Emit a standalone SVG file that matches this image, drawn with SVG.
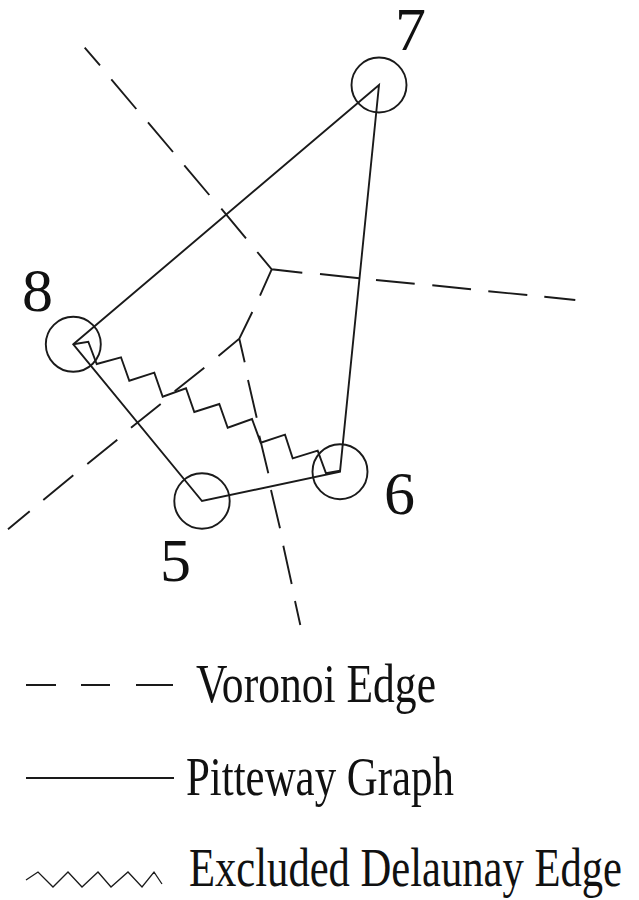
<svg xmlns="http://www.w3.org/2000/svg" width="639" height="900" viewBox="0 0 639 900">
<style>
.edge{fill:none;stroke:#1a1a1a;stroke-width:1.9;stroke-linejoin:miter;stroke-linecap:butt}
.node{fill:none;stroke:#1a1a1a;stroke-width:1.9}
.lbl{font-family:"Liberation Serif","Times New Roman",serif;font-size:62px;fill:#111;text-anchor:middle}
.leg{font-family:"Liberation Serif","Times New Roman",serif;font-size:54px;fill:#111}
</style>
<rect width="639" height="900" fill="#fff"/>
<g id="connectors">
  <g id="pitteway">
    <path class="edge" d="M73.3,344.3 L379,85 L340,471.7 L202,501 Z"/>
  </g>
  <g id="excluded-delaunay">
    <polyline class="edge" points="73.3,344.3 88.3,341.7 96.7,364 121,357.3 129.3,380.7 154.3,372.7 162.7,396.7 186,388.3 194.3,412 219.3,404 227.7,427.7 252,419 260.7,442.7 285,434.7 292.7,458.3 317.7,450.7 326,473.3 340,470.7"/>
  </g>
  <g id="voronoi">
    <path class="edge" d="M84.7,47.7 L100,65.3 M111.3,79.3 L136.3,109 M148,122.3 L173,152 M184.3,165.3 L209.3,195 M221.3,208.7 L246,238.3 M257.3,252 L271.7,269.3 L302.3,272.7 M271.7,269.3 L260,295.7"/>
    <path class="edge" d="M320,274 L359.3,278.3 M376,280 L414.7,283.7 M432.3,285.3 L471,289.3 M488.3,291.3 L527.3,295 M544.3,296.7 L575.3,300"/>
    <path class="edge" d="M252.3,312 L239.3,338.7 L218.5,356 M239.3,338.7 L244.7,362.3 M204.3,367.7 L174.7,391.3 M160.7,404 L131,427.7 M117.3,439.7 L87.3,464 M73.3,475.3 L43.3,500 M29.7,511.3 L8,529.3"/>
    <path class="edge" d="M248,380 L256.7,417.7 M259.3,435.7 L268.3,473.3 M271,490 L280,528.3 M283.3,545.7 L291.7,584 M295,601 L300.3,625"/>
  </g>
</g>
<g id="node-7">
  <circle class="node" cx="379" cy="85" r="27.5"/>
  <text class="lbl" x="410.5" y="50">7</text>
</g>
<g id="node-8">
  <circle class="node" cx="73.3" cy="344.3" r="27.5"/>
  <text class="lbl" x="37.5" y="311">8</text>
</g>
<g id="node-6">
  <circle class="node" cx="340" cy="471.7" r="27.5"/>
  <text class="lbl" x="399.5" y="514">6</text>
</g>
<g id="node-5">
  <circle class="node" cx="202" cy="501" r="27.7"/>
  <text class="lbl" x="175.5" y="581">5</text>
</g>
<g id="legend">
  <path class="edge" d="M26,685 L56,685 M81,685 L110,685 M136,685 L173,685"/>
  <text class="leg" x="196" y="702" textLength="240" lengthAdjust="spacingAndGlyphs">Voronoi Edge</text>
  <path class="edge" d="M26,778 L174,778"/>
  <text class="leg" x="186" y="795" textLength="268" lengthAdjust="spacingAndGlyphs">Pitteway Graph</text>
  <polyline class="edge" style="stroke-width:1.3" points="26,880 38,872 53,887 68,872 82,887 98,872 111,887 128,872 142,887 154,872 162,884"/>
  <text class="leg" x="189" y="886" textLength="433" lengthAdjust="spacingAndGlyphs">Excluded Delaunay Edge</text>
</g>
</svg>
